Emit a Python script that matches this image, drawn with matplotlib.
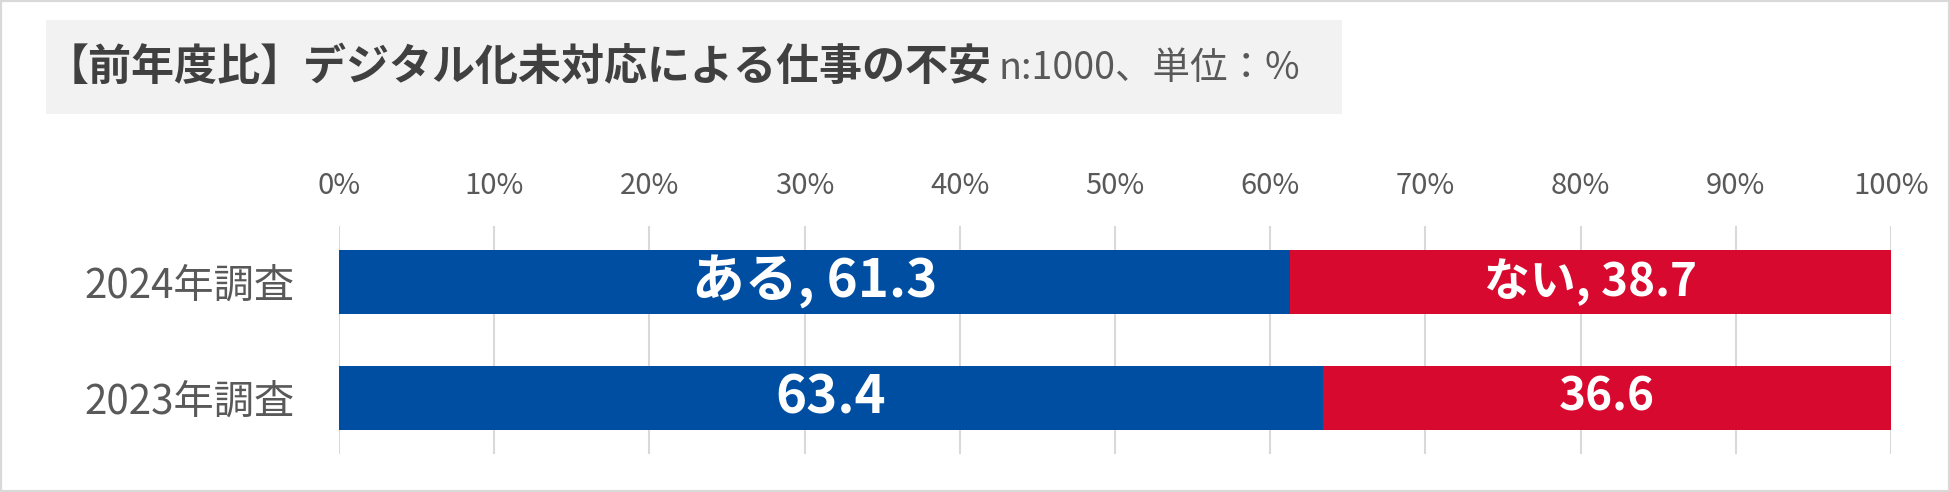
import matplotlib
matplotlib.use("Agg")
import matplotlib.pyplot as plt
from matplotlib.patches import Rectangle

plt.rcParams['font.family'] = ['Noto Sans CJK JP', 'DejaVu Sans']

# データ
categories = ['2023年調査', '2024年調査']
aru = [63.4, 61.3]
nai = [36.6, 38.7]
aru_labels = ['63.4', 'ある, 61.3']
nai_labels = ['36.6', 'ない, 38.7']
ticks = [0, 10, 20, 30, 40, 50, 60, 70, 80, 90, 100]
tick_labels = [f'{t}%' for t in ticks]

title = '【前年度比】デジタル化未対応による仕事の不安'
subtitle = 'n:1000、単位：%'

blue = '#004EA2'
red = '#D7092E'

W, H = 1950, 492
fig = plt.figure(figsize=(W / 100, H / 100), dpi=100)

# 外枠
fig.patches.append(Rectangle((0, 0), 1, 1, transform=fig.transFigure,
                             fill=False, edgecolor='#d9d9d9', linewidth=3))
# タイトル背景
fig.patches.append(Rectangle((46 / W, 1 - 114 / H), (1342 - 46) / W, (114 - 20) / H,
                             transform=fig.transFigure, facecolor='#f2f2f2',
                             edgecolor='none'))
t = fig.text(46 / W, 1 - 67 / H, title, fontsize=31, fontweight='bold',
             color='#404040', va='center', ha='left')
fig.canvas.draw()
bb = t.get_window_extent()
fig.text(bb.x1 / W + 6 / W, 1 - 69 / H, subtitle, fontsize=27,
         color='#595959', va='center', ha='left')

ax = fig.add_axes([339 / W, 1 - 454 / H, (1891 - 339) / W, (454 - 226) / H])
y = range(len(categories))
ax.barh(y, aru, height=0.56, color=blue, zorder=3)
ax.barh(y, nai, left=aru, height=0.56, color=red, zorder=3)

for i in y:
    ax.text(aru[i] / 2, i, aru_labels[i], ha='center', va='center',
            color='white', fontsize=38, fontweight='bold', zorder=4)
    ax.text(aru[i] + nai[i] / 2, i, nai_labels[i], ha='center', va='center',
            color='white', fontsize=33, fontweight='bold', zorder=4)

ax.set_xlim(0, 100)
ax.set_ylim(-0.483, 1.483)
ax.set_xticks(ticks)
ax.set_xticklabels(tick_labels)
ax.set_yticks(list(y))
ax.set_yticklabels(categories)
ax.xaxis.tick_top()
ax.tick_params(axis='x', length=0, pad=18, labelsize=21, labelcolor='#595959')
ax.tick_params(axis='y', length=0, pad=32, labelsize=29, labelcolor='#595959')
ax.grid(axis='x', color='#d9d9d9', linewidth=1.5, zorder=0)
for s in ax.spines.values():
    s.set_visible(False)

fig.savefig('out.png', dpi=100)
